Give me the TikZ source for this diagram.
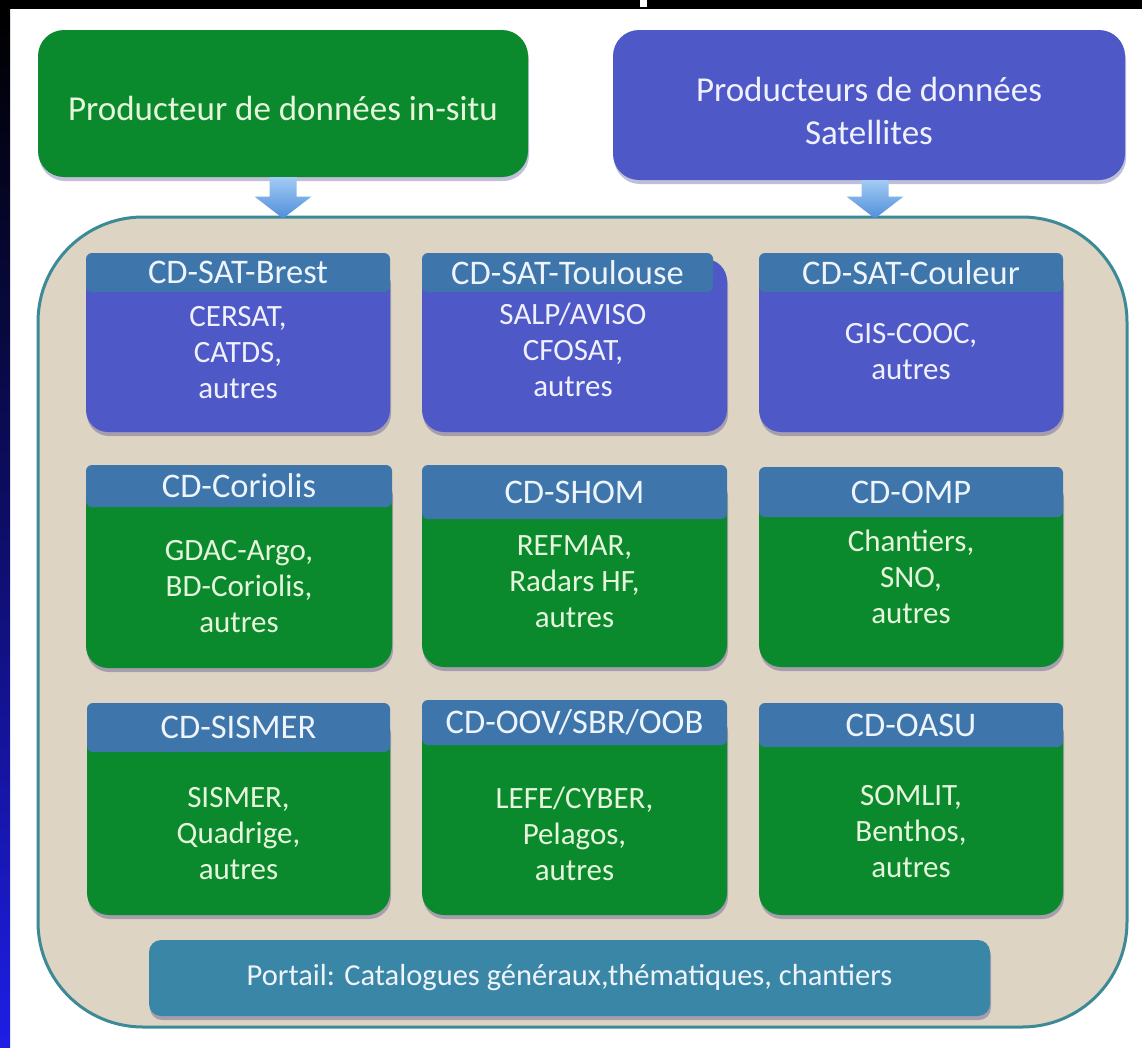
\documentclass[tikz,border=0pt]{standalone}
\usepackage{fontspec}
\setmainfont{Carlito}
\usetikzlibrary{arrows.meta,shadows,fit,calc}
\definecolor{ingreen}{HTML}{0A8A2C}
\definecolor{satblue}{HTML}{4E58C6}
\definecolor{hdrblue}{HTML}{3E76AC}
\definecolor{bgtan}{HTML}{DED4C4}
\definecolor{tanedge}{HTML}{3C8A96}
\definecolor{portalc}{HTML}{3A86A6}
\definecolor{arrowtop}{HTML}{A2CBF4}
\definecolor{arrowbot}{HTML}{4F8EDB}
\definecolor{greentext}{HTML}{E6F6DC}
\definecolor{bluetext}{HTML}{F0F1FF}
\definecolor{hdrtextc}{HTML}{EEF4FB}
\definecolor{stripblue}{HTML}{1E1EE6}
\tikzset{
  softshadow/.style={drop shadow={shadow xshift=1pt, shadow yshift=-4pt, opacity=0.25, fill=black!60!blue}},
  topbox/.style={rounded corners=26pt, inner sep=0pt, softshadow},
  bodybox/.style={rounded corners=22pt, inner sep=0pt, softshadow, cellfill},
  hdrbox/.style={rounded corners=6pt, inner sep=0pt, fill=hdrblue},
  titletext/.style={align=center, inner sep=0pt, font=\fontsize{35}{43}\selectfont},
  hdrtext/.style={inner sep=0pt, text=hdrtextc, font=\fontsize{34.5}{40}\selectfont},
  bodytext/.style={align=center, inner sep=0pt, celltext, font=\fontsize{31}{36}\selectfont},
  portaltext/.style={inner sep=0pt, text=hdrtextc, font=\fontsize{30.5}{36}\selectfont},
  arrowshade/.style={top color=arrowtop, bottom color=arrowbot},
  cellfill/.style={fill=ingreen},
  celltext/.style={text=greentext}
}
% name, x1, x2, header top, header bottom, body bottom, text y, header, body
\newcommand\cdcell[9]{%
  \node[bodybox, fit={(#2,#4+6)(#3,#6)}] (#1) {};
  \node[hdrbox, fit={(#2,#4)(#3,#5)}] (#1h) {};
  \node[hdrtext] (#1ht) at (#1h.center) {#8};
  \node[bodytext] (#1t) at ({(#2+#3)/2},#7) {#9};
}
% block arrow from the bottom of node #1 (shifted by #2) down to the top of the container
\newcommand\blockarrow[2]{%
  \shade[arrowshade] let \p1=([xshift=#2]#1.south), \p2=(tanbox.north) in
    (\x1-13.5pt,\y1) -- (\x1+13.5pt,\y1) -- (\x1+13.5pt,\y2+19pt) -- (\x1+28.5pt,\y2+19pt)
    -- (\x1,\y2-3pt) -- (\x1-28.5pt,\y2+19pt) -- (\x1-13.5pt,\y2+19pt) -- cycle;
}
\begin{document}
\begin{tikzpicture}[x=1pt,y=-1pt]
\useasboundingbox (0,0) rectangle (1142,1047);
% page background
\fill[white] (0,0) rectangle (1142,1047);
\fill[black] (0,0) rectangle (1142,9);
\fill[white] (640,0) rectangle (647,7);
\shade[top color=black, bottom color=stripblue, middle color=black!55!stripblue] (0,9) rectangle (10,1047);

% large container
\node[fit={(38,217)(1127,1027)}, inner sep=0pt, rounded corners=105pt, fill=bgtan, draw=tanedge, line width=3pt] (tanbox) {};

% producers
\node[topbox, fill=ingreen, fit={(38,30)(528,177)}] (insitu) {};
\node[titletext, text=greentext] (insitut) at (283,108) {Producteur de données in-situ};
\node[topbox, fill=satblue, fit={(613,30)(1125,180)}] (sat) {};
\node[titletext, text=bluetext] (satt) at (869,111) {Producteurs de données\\Satellites};

\blockarrow{insitu}{0pt}
\blockarrow{sat}{6pt}

% satellite data centres
\begin{scope}[cellfill/.style={fill=satblue}, celltext/.style={text=bluetext}]
\cdcell{brest}{86}{390}{253}{292}{432}{353}{CD-SAT-Brest}{CERSAT,\\CATDS,\\autres}
\node[bodybox, fit={(422,259)(727,432)}] (toulouse) {};
\node[hdrbox, fit={(422,253)(713,292)}] (toulouseh) {};
\node[hdrtext] (toulouseht) at (toulouseh.center) {CD-SAT-Toulouse};
\node[bodytext] (toulouset) at (573,350) {SALP/AVISO\\CFOSAT,\\autres};
\cdcell{couleur}{759}{1063}{253}{292}{432}{352}{CD-SAT-Couleur}{GIS-COOC,\\autres}
\end{scope}

% in-situ data centres
\cdcell{coriolis}{86}{392}{465}{507}{668}{587}{CD-Coriolis}{GDAC-Argo,\\BD-Coriolis,\\autres}
\cdcell{shom}{422}{727}{465}{519}{667}{582}{CD-SHOM}{REFMAR,\\Radars HF,\\autres}
\cdcell{omp}{759}{1063}{467}{517}{667}{577}{CD-OMP}{Chantiers,\\SNO,\\autres}
\cdcell{sismer}{87}{390}{703}{752}{915}{834}{CD-SISMER}{SISMER,\\Quadrige,\\autres}
\cdcell{oov}{422}{727}{700}{745}{915}{834}{CD-OOV/SBR/OOB}{LEFE/CYBER,\\Pelagos,\\autres}
\cdcell{oasu}{759}{1063}{703}{747}{915}{832}{CD-OASU}{SOMLIT,\\Benthos,\\autres}

% portal
\node[fit={(149,940)(990,1016)}, inner sep=0pt, rounded corners=12pt, fill=portalc, softshadow] (portal) {};
\node[portaltext] (portalt) at (portal.center) {Portail: Catalogues généraux,thématiques, chantiers};
\end{tikzpicture}
\end{document}
